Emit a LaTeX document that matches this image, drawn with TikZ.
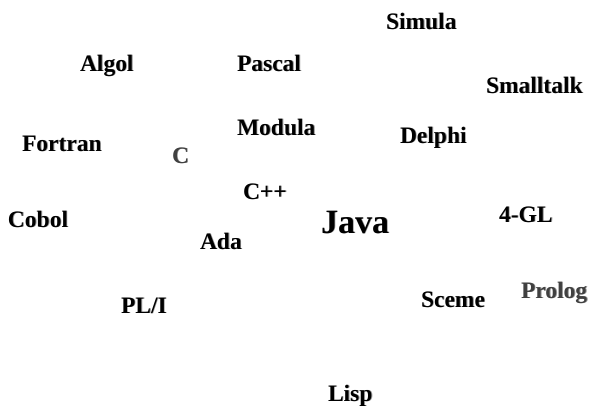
\documentclass[tikz,border=0pt]{standalone}
\usepackage{fontspec}
\setmainfont{Liberation Serif}
\newcommand\shadowedword[1]{\makebox[0pt][l]{\kern0.9pt\raisebox{-0.9pt}{\textcolor{black!40}{#1}}}#1}
\tikzset{
  word/.style={anchor=base west, inner sep=0pt, outer sep=0pt,
    font=\fontsize{23.5}{26}\selectfont\bfseries, text=black},
  bigword/.style={word, font=\fontsize{34}{38}\selectfont\bfseries},
  grayword/.style={word, text=black!75}
}
\begin{document}
\begin{tikzpicture}[x=1pt,y=-1pt]
\useasboundingbox (0,0) rectangle (590,408);
\node[word] (simula) at (386,29) {\shadowedword{Simula}};
\node[word] (algol) at (80,71) {\shadowedword{Algol}};
\node[word] (pascal) at (237,71) {\shadowedword{Pascal}};
\node[word] (smalltalk) at (486,93) {\shadowedword{Smalltalk}};
\node[word] (modula) at (237,135) {\shadowedword{Modula}};
\node[word] (delphi) at (400,143) {\shadowedword{Delphi}};
\node[word] (fortran) at (22,151) {\shadowedword{Fortran}};
\node[grayword] (c) at (172,163) {\shadowedword{C}};
\node[word] (cpp) at (243,199) {\shadowedword{C++}};
\node[word] (cobol) at (8,227) {\shadowedword{Cobol}};
\node[bigword] (java) at (321,233) {\shadowedword{Java}};
\node[word] (fourgl) at (499,222) {\shadowedword{4-GL}};
\node[word] (ada) at (200,249) {\shadowedword{Ada}};
\node[word] (pli) at (121,313) {\shadowedword{PL/I}};
\node[word] (sceme) at (421,307) {\shadowedword{Sceme}};
\node[grayword] (prolog) at (521,298) {\shadowedword{Prolog}};
\node[word] (lisp) at (328,401) {\shadowedword{Lisp}};
\end{tikzpicture}
\end{document}
